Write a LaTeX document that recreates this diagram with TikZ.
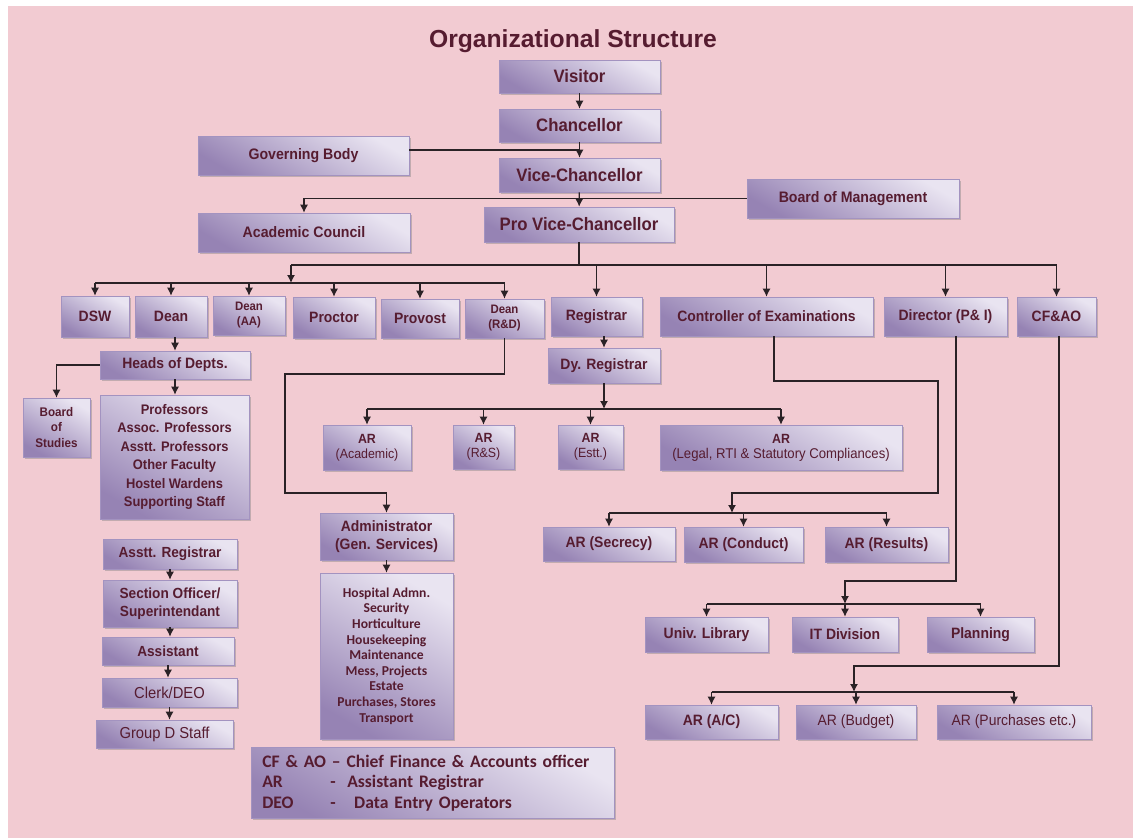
\documentclass[tikz,border=0pt]{standalone}
\usepackage{fontspec}
\setmainfont{Liberation Sans}
\newfontfamily\narfont{Liberation Sans}[FakeStretch=0.93]
\newfontfamily\calib{Carlito}
\usetikzlibrary{arrows.meta,shadows}
\definecolor{bgpink}{HTML}{F2CBD2}
\definecolor{boxtop}{HTML}{E9E4F1}
\definecolor{boxbot}{HTML}{9683B4}
\definecolor{boxedge}{HTML}{A393C0}
\definecolor{txt}{HTML}{561C30}
\definecolor{lin}{HTML}{2A2226}
\tikzset{
  box/.style={draw=boxedge, line width=0.4pt, top color=boxtop, bottom color=boxbot,
    shading angle=-30, inner sep=0pt, align=center, text=txt,
    drop shadow={shadow xshift=1.3pt, shadow yshift=-1.6pt, opacity=0.42}},
  big/.style={font=\narfont\bfseries\fontsize{13.5}{16}\selectfont},
  mid/.style={font=\narfont\bfseries\fontsize{11.25}{13.9}\selectfont},
  midr/.style={font=\narfont\fontsize{11.25}{13.9}\selectfont},
  prf/.style={font=\narfont\bfseries\fontsize{10.4}{13.9}\selectfont},
  brd/.style={font=\narfont\bfseries\fontsize{11.4}{13.5}\selectfont},
  sml/.style={font=\narfont\bfseries\fontsize{11}{13.5}\selectfont},
  smlr/.style={font=\narfont\fontsize{11.9}{13.5}\selectfont},
  tny/.style={font=\narfont\bfseries\fontsize{9.4}{11.5}\selectfont},
  dn/.style={font=\narfont\bfseries\fontsize{9.2}{11.3}\selectfont},
  ar2/.style={font=\narfont\bfseries\fontsize{10}{11.3}\selectfont},
  svcf/.style={font=\calib\bfseries\fontsize{10.2}{11.7}\selectfont},
  ln/.style={draw=lin, line width=0.95pt},
  arr/.style={draw=lin, line width=0.95pt, -{Latex[length=6pt,width=6pt]}}
}
\newcommand\bx[7][]{\node[box,#1,minimum width={(#5-#3)*0.75pt},minimum height={(#6-#4)*0.75pt}] (#2) at ({(#3+#5)/2},{(#4+#6)/2}) {#7};}
\begin{document}
\begin{tikzpicture}[x=0.75pt,y=-0.75pt]
\useasboundingbox (0,0) rectangle (1133,839);
\fill[bgpink] (8,6) rectangle (1133,838);
\node[text=txt, font=\bfseries\fontsize{18.5}{20}\selectfont] (title) at (573,41) {Organizational Structure};
% top
\bx[big]{visitor}{499}{60}{660}{93}{Visitor}
\bx[big]{chan}{499}{109}{660}{142}{Chancellor}
\bx[brd]{gb}{198}{136}{409}{175}{Governing Body}
\bx[big]{vc}{499}{158}{660}{192}{Vice-Chancellor}
\bx[brd]{bom}{747}{179}{959}{218}{Board of Management}
\bx[brd]{ac}{198}{213}{410}{252}{Academic Council}
\bx[big]{pvc}{484}{207}{674}{242}{Pro Vice-Chancellor}
% row
\bx[mid]{dsw}{61}{296}{129}{337}{DSW}
\bx[mid]{dean}{135}{296}{207}{337}{Dean}
\bx[dn]{deanaa}{213}{296}{285}{335}{Dean\\(AA)}
\bx[mid]{proctor}{293}{297}{375}{338}{Proctor}
\bx[mid]{provost}{381}{299}{459}{338}{Provost}
\bx[dn]{deanrd}{465}{299}{544}{338}{Dean\\(R\&D)}
\bx[mid]{reg}{551}{297}{642}{336}{Registrar}
\bx[mid]{coe}{660}{297}{873}{336}{Controller of Examinations}
\bx[mid]{dir}{884}{297}{1007}{336}{Director (P\& I)}
\bx[mid]{cfao}{1017}{297}{1096}{336}{CF\&AO}
% academic
\bx[mid]{hod}{100}{351}{250}{379}{Heads of Depts.}
\bx[tny]{bos}{23}{398}{90}{457}{Board\\of\\Studies}
\bx[prf]{prof}{100}{395}{249}{519}{Professors\\Assoc. Professors\\Asstt. Professors\\Other Faculty\\Hostel Wardens\\Supporting Staff}
% registrar
\bx[mid]{dyreg}{548}{348}{660}{383}{Dy. Registrar}
\bx[ar2]{arac}{323}{425}{411}{470}{AR\\{\mdseries (Academic)}}
\bx[ar2]{arrs}{453}{425}{514}{469}{AR\\{\mdseries (R\&S)}}
\bx[ar2]{arest}{558}{425}{623}{469}{AR\\{\mdseries (Estt.)}}
\bx[ar2]{arleg}{660}{425}{902}{470}{AR\\{\mdseries\fontsize{10.6}{11.3}\selectfont (Legal, RTI \& Statutory Compliances)}}
% admin
\bx[mid]{admin}{320}{513}{453}{560}{Administrator\\(Gen. Services)}
\bx[svcf]{svc}{320}{573}{453}{739}{Hospital Admn.\\Security\\Horticulture\\Housekeeping\\Maintenance\\Mess, Projects\\Estate\\Purchases, Stores\\Transport}
% left chain
\bx[sml]{ar1}{103}{539}{237}{569}{Asstt. Registrar}
\bx[sml]{so}{103}{580}{237}{627}{Section Officer/\\Superintendant}
\bx[sml]{asst}{102}{637}{234}{665}{Assistant}
\bx[smlr]{clerk}{102}{678}{237}{707}{Clerk/DEO}
\bx[smlr]{grpd}{96}{720}{233}{748}{Group D Staff}
% exams
\bx[mid]{sec}{543}{527}{675}{561}{AR (Secrecy)}
\bx[mid]{cond}{684}{527}{803}{562}{AR (Conduct)}
\bx[mid]{res}{825}{527}{948}{562}{AR (Results)}
% director
\bx[mid]{lib}{645}{617}{768}{652}{Univ. Library}
\bx[mid]{itd}{792}{617}{898}{652}{IT Division}
\bx[mid]{plan}{927}{617}{1034}{652}{Planning}
% finance
\bx[mid]{arc}{645}{705}{778}{739}{AR (A/C)}
\bx[midr]{bud}{796}{705}{916}{739}{AR (Budget)}
\bx[midr]{pur}{937}{705}{1091}{739}{AR (Purchases etc.)}
% legend
\node[box, anchor=north west, minimum height=53.25pt, text width=255.75pt, inner xsep=8.25pt, inner ysep=0pt, align=left,
  font=\calib\bfseries\fontsize{13.2}{15.4}\selectfont] (legend) at (251,747)
  {CF \& AO – Chief Finance \& Accounts officer\\
   \makebox[51pt][l]{AR}\makebox[12.75pt][l]{-}Assistant Registrar\\
   \makebox[51pt][l]{DEO}\makebox[18pt][l]{-}Data Entry Operators};
% connectors top
\draw[arr] (visitor) -- (chan);
\draw[arr] (chan) -- (vc);
\coordinate (gbj) at (579.5,150);
\draw[ln] (gb.east |- gbj) -- (gbj);
\draw[arr] (bom.west) -| (ac.north);
\draw[arr] (vc) -- (pvc);
\coordinate (b1l) at (291,265);
\coordinate (b2) at (291,283);
\draw[ln] (pvc.south) -- (pvc.south |- b1l);
\draw[ln] (b1l) -- (b1l -| cfao.north);
\draw[arr] (b1l) -- (b2);
\draw[ln] (b2 -| dsw.north) -- (b2 -| deanrd.north);
\foreach \n in {dsw,dean,deanaa,proctor,provost,deanrd} \draw[arr] (b2 -| \n.north) -- (\n.north);
\foreach \n in {reg,coe,dir,cfao} \draw[arr] (b1l -| \n.north) -- (\n.north);
% academic
\draw[arr] (dean.south -| hod.north) -- (hod.north);
\draw[arr] (hod.west) -| (bos.north);
\draw[arr] (hod.south) -- (hod.south |- prof.north);
% R&D to admin
\coordinate (r1) at (285,374);
\coordinate (r2) at (285,493);
\draw[arr] (deanrd.south) |- (r1) -- (r2) -| (admin.north);
\draw[arr] (admin.south) -- (admin.south |- svc.north);
% registrar
\draw[arr] (reg.south -| dyreg.north) -- (dyreg.north);
\coordinate (b3) at (604,409);
\draw[arr] (dyreg.south) -- (dyreg.south |- b3);
\draw[ln] (b3 -| arac.north) -- (b3 -| arleg.north);
\foreach \n in {arac,arrs,arest,arleg} \draw[arr] (b3 -| \n.north) -- (\n.north);
% left chain
\draw[arr] (ar1.south) -- (ar1.south |- so.north);
\draw[arr] (so.south) -- (so.south |- asst.north);
\draw[arr] (asst.south) -- (asst.south |- clerk.north);
\draw[arr] (clerk.south) -- (clerk.south |- grpd.north);
% controller
\coordinate (c0) at (774,381);
\coordinate (c1) at (938,381);
\coordinate (c2) at (938,493);
\coordinate (c3) at (732,513);
\draw[arr] (coe.south -| c0) -- (c0) -- (c1) -- (c2) -| (c3);
\draw[ln] (c3 -| sec.north) -- (c3 -| res.north);
\foreach \n in {sec,cond,res} \draw[arr] (c3 -| \n.north) -- (\n.north);
% director
\coordinate (d1) at (956,581);
\coordinate (d2) at (845,604);
\draw[arr] (dir.south -| d1) -- (d1) -| (d2);
\draw[ln] (d2 -| lib.north) -- (d2 -| plan.north);
\foreach \n in {lib,itd,plan} \draw[arr] (d2 -| \n.north) -- (\n.north);
% finance
\coordinate (f1) at (1059,666);
\coordinate (f2) at (854,692);
\draw[arr] (cfao.south -| f1) -- (f1) -| (f2);
\draw[ln] (f2 -| arc.north) -- (f2 -| pur.north);
\foreach \n in {arc,bud,pur} \draw[arr] (f2 -| \n.north) -- (\n.north);
\end{tikzpicture}
\end{document}
